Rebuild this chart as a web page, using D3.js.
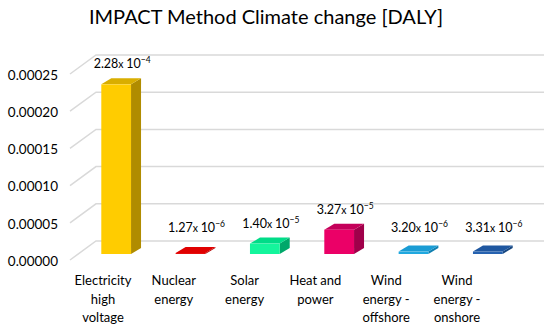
<!DOCTYPE html>
<html>
<head>
<meta charset="utf-8">
<script src="https://cdn.jsdelivr.net/npm/d3@7"></script>
<style>
  body { margin: 0; background: #fff; }
  text { font-family: Lato, "Open Sans", sans-serif; fill: #000; }
</style>
</head>
<body>
<div id="chart"></div>
<script>
// categories (one label line per entry)
const categories = [
  ["Electricity", "high", "voltage"],
  ["Nuclear", "energy"],
  ["Solar", "energy"],
  ["Heat and", "power"],
  ["Wind", "energy -", "offshore"],
  ["Wind", "energy -", "onshore"]
];
const values = [2.28e-4, 1.27e-6, 1.40e-5, 3.27e-5, 3.20e-6, 3.31e-6];
const labelMantissa = ["2.28", "1.27", "1.40", "3.27", "3.20", "3.31"];
const labelExponent = ["−4", "−6", "−5", "−5", "−6", "−6"];
const yTicks = [0, 0.00005, 0.00010, 0.00015, 0.00020, 0.00025];

// front, top, side
const colors = [
  ["#FFCC00", "#D9AE00", "#B08C00"],
  ["#E60000", "#E00000", "#B00000"],
  ["#14F59C", "#00DC88", "#00A86A"],
  ["#EB0067", "#C4005A", "#A0004A"],
  ["#20A8DF", "#1A9CD4", "#0F7FB0"],
  ["#2662B0", "#1F57A0", "#174780"]
];

const W = 550, H = 329;
const svg = d3.select("#chart").append("svg")
  .attr("width", W).attr("height", H);

// title
svg.append("text")
  .attr("x", 266).attr("y", 24)
  .attr("text-anchor", "middle")
  .style("font-size", "20px")
  .text("IMPACT Method Climate change [DALY]");

const ids = categories.map((c, i) => i);
const vmax = 0.00025;

// floor front edge / back wall
const yFront = d3.scaleLinear().domain([0, vmax]).range([260, 74]);
const yBack = d3.scaleLinear().domain([0, vmax]).range([241, 55]);
const yBar = d3.scaleLinear().domain([0, vmax]).range([254, 68]);
const wallLeft = { xf: 70, xb: 96 }, wallRight = 544;

// gridlines: side wall diagonal + back wall
const grid = svg.append("g");
yTicks.forEach(t => {
  grid.append("polyline")
    .attr("points", `${wallLeft.xf},${yFront(t)} ${wallLeft.xb},${yBack(t)} ${wallRight},${yBack(t)}`)
    .attr("fill", "none")
    .attr("stroke", "#D9D9D9")
    .attr("stroke-width", 1.5);
});

// y axis labels
const yAxis = svg.append("g")
  .attr("transform", "translate(58,1)")
  .call(d3.axisLeft(yFront).tickValues(yTicks).tickSize(0).tickPadding(0)
    .tickFormat(d3.format(".5f")));
yAxis.select(".domain").remove();
yAxis.selectAll("text").style("font-size", "13.5px").style("font-family", "Lato, sans-serif");

// bars
const x = d3.scaleBand().domain(ids).range([79, 525])
  .paddingInner(0.6).paddingOuter(0.3);
const dx = 10, dy = 6;
const bw = x.bandwidth();

const bars = svg.append("g").selectAll("g").data(ids).join("g");
bars.append("polygon") // side
  .attr("points", i => {
    const x0 = x(i) + bw, yt = yBar(values[i]), yb = yBar(0);
    return `${x0},${yt} ${x0 + dx},${yt - dy} ${x0 + dx},${yb - dy} ${x0},${yb}`;
  })
  .attr("fill", i => colors[i][2]);
bars.append("polygon") // top
  .attr("points", i => {
    const x0 = x(i), yt = yBar(values[i]);
    return `${x0},${yt} ${x0 + bw},${yt} ${x0 + bw + dx},${yt - dy} ${x0 + dx},${yt - dy}`;
  })
  .attr("fill", i => colors[i][1]);
bars.append("rect") // front
  .attr("x", i => x(i))
  .attr("y", i => yBar(values[i]))
  .attr("width", bw)
  .attr("height", i => Math.max(yBar(0) - yBar(values[i]), 0.8))
  .attr("fill", i => colors[i][0]);

// data labels
const lab = svg.append("g").selectAll("text").data(ids).join("text")
  .attr("x", i => x(i) + bw / 2 + 6)
  .attr("y", i => Math.min(yBar(values[i]) - dy - 10, 232))
  .attr("text-anchor", "middle")
  .style("font-size", "12.5px");
lab.append("tspan").text(i => labelMantissa[i]);
lab.append("tspan").style("font-size", "10.5px").text("x ");
lab.append("tspan").text("10");
lab.append("tspan").attr("dy", -5).style("font-size", "8.5px").text(i => labelExponent[i]);

// category labels
const xl = d3.scalePoint().domain(ids).range([103, 457]);
const cl = svg.append("g").selectAll("text").data(ids).join("text")
  .attr("x", i => xl(i))
  .attr("y", 285)
  .attr("text-anchor", "middle")
  .style("font-size", "13px");
cl.selectAll("tspan").data(i => categories[i].map(s => ({ s, i }))).join("tspan")
  .attr("x", d => xl(d.i))
  .attr("dy", (d, k) => k === 0 ? 0 : 18.5)
  .text(d => d.s);
</script>
</body>
</html>
